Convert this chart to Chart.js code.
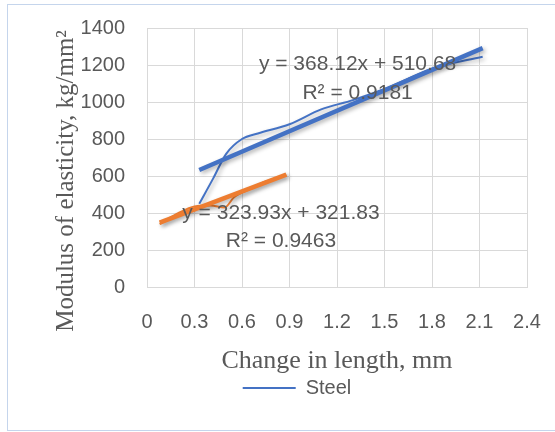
<!DOCTYPE html>
<html>
<head>
<meta charset="utf-8">
<script src="https://cdn.jsdelivr.net/npm/chart.js@4.4.1/dist/chart.umd.min.js"></script>
<style>
    html, body { margin: 0; padding: 0; background: #fff; overflow: hidden; }
    #wrap { position: relative; width: 555px; height: 432px; }
    #frame {
        position: absolute; left: 7px; top: 4px; width: 548px; height: 427px;
        border-left: 1px solid #c5d5ec; border-top: 1px solid #c5d5ec; border-bottom: 1px solid #c5d5ec;
        box-sizing: border-box; pointer-events: none;
    }
</style>
</head>
<body>
<div id="wrap">
    <canvas id="chart" width="555" height="432"></canvas>
    <div id="frame"></div>
</div>
<script>
// values
const steelX = [0.33, 0.42, 0.5, 0.6, 0.7, 0.9, 1.1, 1.3, 1.5, 1.8, 2.12];
const steelY = [450, 590, 720, 800, 830, 880, 960, 1010, 1070, 1180, 1245];
const otherX = [0.08, 0.2, 0.3, 0.4, 0.49, 0.55, 0.65, 0.75, 0.88];
const otherY = [340, 400, 435, 440, 430, 485, 530, 570, 605];

// trendline coefficients [slope, intercept]
const steelTrend = [368.12, 510.68];
const otherTrend = [323.93, 321.83];

const xTicks = [0, 0.3, 0.6, 0.9, 1.2, 1.5, 1.8, 2.1, 2.4];
const yTicks = [0, 200, 400, 600, 800, 1000, 1200, 1400];

const steelLabels = ['y = 368.12x + 510.68', 'R² = 0.9181'];
const otherLabels = ['y = 323.93x + 321.83', 'R² = 0.9463'];

const BLUE = '#4472c4';
const ORANGE = '#ed7d31';
const GREY = '#595959';

function zip(xs, ys) {
    return xs.map((x, i) => ({ x: x, y: ys[i] }));
}

function trendPoints(xs, coef) {
    const lo = Math.min(...xs), hi = Math.max(...xs);
    return [lo, hi].map(x => ({ x: x, y: coef[0] * x + coef[1] }));
}

// where the equation boxes sit, in data units
const labelSpots = [
    { lines: steelLabels, at: [{ x: 1.33, y: 1204 }, { x: 1.33, y: 1046 }] },
    { lines: otherLabels, at: [{ x: 0.846, y: 398 }, { x: 0.846, y: 245 }] }
];

const shadowPlugin = {
    id: 'lineShadow',
    beforeDatasetsDraw(chart) {
        const ctx = chart.ctx;
        ctx.save();
        ctx.shadowColor = 'rgba(0,0,0,0.3)';
        ctx.shadowBlur = 4;
        ctx.shadowOffsetX = 2;
        ctx.shadowOffsetY = 2;
    },
    afterDatasetsDraw(chart) {
        chart.ctx.restore();
    }
};

const textPlugin = {
    id: 'extraText',
    afterDatasetsDraw(chart) {
        const ctx = chart.ctx;
        const xs = chart.scales.x, ys = chart.scales.y;
        ctx.save();
        ctx.fillStyle = GREY;
        ctx.font = '21px "Liberation Sans"';
        ctx.textAlign = 'center';
        ctx.textBaseline = 'middle';
        labelSpots.forEach(spot => {
            spot.lines.forEach((txt, i) => {
                ctx.fillText(txt, xs.getPixelForValue(spot.at[i].x), ys.getPixelForValue(spot.at[i].y));
            });
        });
        // y axis title
        ctx.translate(66, 181);
        ctx.rotate(-Math.PI / 2);
        ctx.font = '25px "Liberation Serif"';
        ctx.fillText('Modulus of elasticity, kg/mm²', 0, 0);
        ctx.restore();
    }
};

Chart.defaults.font.family = '"Liberation Sans", Arial, sans-serif';
Chart.defaults.color = GREY;

new Chart(document.getElementById('chart').getContext('2d'), {
    type: 'line',
    data: {
        datasets: [
            {
                label: 'Linear (Steel)',
                data: trendPoints(steelX, steelTrend),
                borderColor: BLUE,
                borderWidth: 4.5,
                pointRadius: 0,
                tension: 0
            },
            {
                label: 'Linear (Series2)',
                data: trendPoints(otherX, otherTrend),
                borderColor: ORANGE,
                borderWidth: 4.5,
                pointRadius: 0,
                tension: 0
            },
            {
                label: 'Series2',
                data: zip(otherX, otherY),
                borderColor: ORANGE,
                borderWidth: 2,
                pointRadius: 0,
                cubicInterpolationMode: 'monotone'
            },
            {
                label: 'Steel',
                data: zip(steelX, steelY),
                borderColor: BLUE,
                backgroundColor: BLUE,
                borderWidth: 2,
                pointRadius: 0,
                cubicInterpolationMode: 'monotone'
            }
        ]
    },
    options: {
        responsive: false,
        animation: false,
        layout: { padding: { left: 67, right: 28, top: 28, bottom: 24 } },
        plugins: {
            tooltip: { enabled: false },
            legend: {
                position: 'bottom',
                labels: {
                    usePointStyle: true,
                    pointStyle: 'line',
                    pointStyleWidth: 53,
                    padding: 0,
                    font: { size: 20 },
                    color: GREY,
                    filter: item => item.text === 'Steel'
                }
            }
        },
        scales: {
            x: {
                type: 'linear',
                min: 0,
                max: 2.4,
                afterBuildTicks: s => { s.ticks = xTicks.map(v => ({ value: v })); },
                afterFit: s => { s.height = 91; },
                grid: { color: '#d9d9d9', tickLength: 23, tickColor: 'transparent' },
                border: { color: '#d9d9d9' },
                ticks: { padding: 0, font: { size: 20 }, color: GREY },
                title: {
                    display: true,
                    text: 'Change in length, mm',
                    font: { family: '"Liberation Serif", serif', size: 26 },
                    color: GREY,
                    padding: { top: 0, bottom: 1 }
                }
            },
            y: {
                type: 'linear',
                min: 0,
                max: 1400,
                afterBuildTicks: s => { s.ticks = yTicks.map(v => ({ value: v })); },
                afterFit: s => { s.width = 80; },
                grid: { color: '#d9d9d9', tickLength: 22, tickColor: 'transparent' },
                border: { color: '#d9d9d9' },
                ticks: { padding: 0, font: { size: 20 }, color: GREY, callback: v => String(v) }
            }
        }
    },
    plugins: [shadowPlugin, textPlugin]
});
</script>
</body>
</html>
